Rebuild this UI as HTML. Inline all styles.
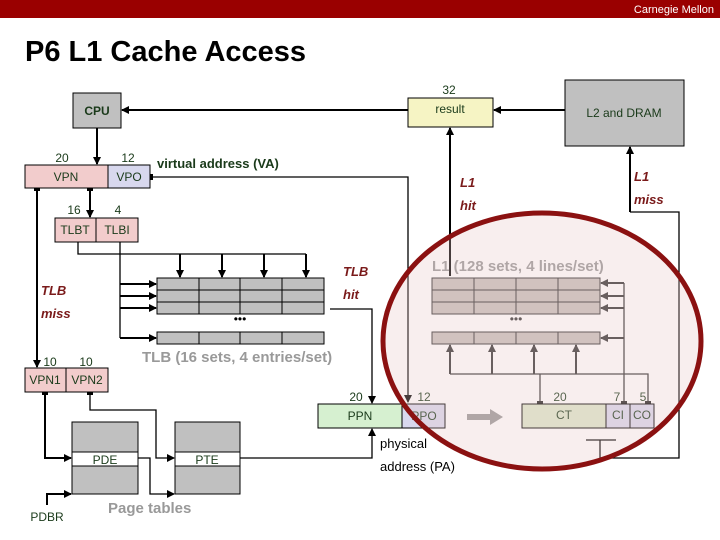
<!DOCTYPE html>
<html><head><meta charset="utf-8"><style>
html,body{margin:0;padding:0;background:#fff}
svg{display:block}
text{font-family:"Liberation Sans",sans-serif}
</style></head><body>
<svg width="720" height="540" viewBox="0 0 720 540" xmlns="http://www.w3.org/2000/svg">
<defs>
<marker id="a" markerWidth="8" markerHeight="8" refX="7" refY="4" orient="auto" markerUnits="userSpaceOnUse"><path d="M0,0 L8,4 L0,8 z" fill="#000"/></marker>
<marker id="b" markerWidth="8" markerHeight="8" refX="7" refY="4" orient="auto" markerUnits="userSpaceOnUse"><path d="M0,0 L8,4 L0,8 z" fill="#333"/></marker>
</defs>
<rect x="0" y="0" width="720" height="18" fill="#9a0000"/>
<text x="714" y="13" fill="#fff" font-size="11" text-anchor="end" font-family="Liberation Serif,serif">Carnegie Mellon</text>
<text x="25" y="61" font-size="29" font-weight="bold" fill="#000">P6 L1 Cache Access</text>

<g stroke="#000" fill="none" stroke-width="1.3">
<line x1="408" y1="110" x2="122" y2="110" stroke-width="2" marker-end="url(#a)"/>
<line x1="97" y1="128" x2="97" y2="164" stroke-width="2" marker-end="url(#a)"/>
<line x1="565" y1="110" x2="494" y2="110" stroke-width="2" marker-end="url(#a)"/>
<polyline points="150,177 408,177 408,402" marker-end="url(#a)"/>
<line x1="90" y1="188" x2="90" y2="217" stroke-width="2" marker-end="url(#a)"/>
<polyline points="78,242 78,254 306,254"/>
<line x1="180" y1="254" x2="180" y2="277" stroke-width="2" marker-end="url(#a)"/>
<line x1="222" y1="254" x2="222" y2="277" stroke-width="2" marker-end="url(#a)"/>
<line x1="264" y1="254" x2="264" y2="277" stroke-width="2" marker-end="url(#a)"/>
<line x1="306" y1="254" x2="306" y2="277" stroke-width="2" marker-end="url(#a)"/>
<polyline points="120,242 120,338"/>
<line x1="120" y1="284" x2="156" y2="284" stroke-width="2" marker-end="url(#a)"/>
<line x1="120" y1="296" x2="156" y2="296" stroke-width="2" marker-end="url(#a)"/>
<line x1="120" y1="308" x2="156" y2="308" stroke-width="2" marker-end="url(#a)"/>
<line x1="120" y1="338" x2="156" y2="338" stroke-width="2" marker-end="url(#a)"/>
<polyline points="330,309 372,309 372,403" marker-end="url(#a)"/>
<line x1="37" y1="188" x2="37" y2="367" stroke-width="2" marker-end="url(#a)"/>
<polyline points="45,392 45,458 71,458" stroke-width="2" marker-end="url(#a)"/>
<polyline points="90,392 90,410 156,410 156,458 174,458" marker-end="url(#a)"/>
<polyline points="138,458 150,458 150,494 174,494" marker-end="url(#a)"/>
<polyline points="47,505 47,494 71,494" stroke-width="2" marker-end="url(#a)"/>
<polyline points="240,458 372,458 372,429" marker-end="url(#a)"/>
<line x1="450" y1="276" x2="450" y2="128" stroke-width="2" marker-end="url(#a)"/>
<polyline points="600,458 679,458 679,212 630,212"/>
<line x1="630" y1="212" x2="630" y2="147" stroke-width="2" marker-end="url(#a)"/>
<line x1="586" y1="440" x2="616" y2="440"/>
<line x1="600" y1="440" x2="600" y2="458"/>
</g>
<g stroke="#333" fill="none" stroke-width="1.3">
<line x1="624" y1="283" x2="624" y2="404"/>
<line x1="624" y1="283" x2="601" y2="283" stroke-width="2" marker-end="url(#b)"/>
<line x1="624" y1="296" x2="601" y2="296" stroke-width="2" marker-end="url(#b)"/>
<line x1="624" y1="308" x2="601" y2="308" stroke-width="2" marker-end="url(#b)"/>
<line x1="624" y1="338" x2="601" y2="338" stroke-width="2" marker-end="url(#b)"/>
<polyline points="450,374 648,374 648,404"/>
<line x1="540" y1="374" x2="540" y2="404"/>
<line x1="450" y1="374" x2="450" y2="345" stroke-width="2" marker-end="url(#b)"/>
<line x1="492" y1="374" x2="492" y2="345" stroke-width="2" marker-end="url(#b)"/>
<line x1="534" y1="374" x2="534" y2="345" stroke-width="2" marker-end="url(#b)"/>
<line x1="576" y1="374" x2="576" y2="345" stroke-width="2" marker-end="url(#b)"/>
</g>
<g fill="#222"><rect x="537" y="401" width="6" height="6"/><rect x="621" y="401" width="6" height="6"/><rect x="645" y="401" width="6" height="6"/>
<rect x="147" y="174" width="6" height="6" fill="#000"/><rect x="34" y="185" width="6" height="6" fill="#000"/><rect x="87" y="185" width="6" height="6" fill="#000"/>
<rect x="42" y="389" width="6" height="6" fill="#000"/><rect x="87" y="389" width="6" height="6" fill="#000"/></g>

<g stroke="#000" stroke-width="1">
<rect x="73" y="93" width="48" height="35" fill="#c0c0c0"/>
<rect x="408" y="98" width="85" height="29" fill="#f6f4c4"/>
<rect x="565" y="80" width="119" height="66" fill="#c0c0c0"/>
<rect x="25" y="165" width="83" height="23" fill="#f2cccc"/>
<rect x="108" y="165" width="42" height="23" fill="#d8d8ee"/>
<rect x="55" y="218" width="41" height="24" fill="#f2cccc"/>
<rect x="96" y="218" width="42" height="24" fill="#f2cccc"/>
<rect x="25" y="368" width="41" height="24" fill="#f2cccc"/>
<rect x="66" y="368" width="42" height="24" fill="#f2cccc"/>
<rect x="72" y="422" width="66" height="72" fill="#c0c0c0"/>
<rect x="72" y="452" width="66" height="14" fill="#fff"/>
<rect x="175" y="422" width="65" height="72" fill="#c0c0c0"/>
<rect x="175" y="452" width="65" height="14" fill="#fff"/>
<rect x="318" y="404" width="84" height="24" fill="#d6f0d0"/>
<rect x="402" y="404" width="43" height="24" fill="#d8d8ee"/>
<rect x="522" y="404" width="84" height="24" fill="#dde8cc"/>
<rect x="606" y="404" width="24" height="24" fill="#d8d8ee"/>
<rect x="630" y="404" width="24" height="24" fill="#d8d8ee"/>
</g>
<g stroke="#000" stroke-width="1" fill="#c0c0c0">
<rect x="157" y="278" width="167" height="36"/><rect x="157" y="332" width="167" height="12"/>
<path d="M157,290H324M157,302H324M199,278V314M240,278V314M282,278V314M199,332V344M240,332V344M282,332V344" fill="none"/>
</g>
<g stroke="#333" stroke-width="1" fill="#c8c0bc">
<rect x="432" y="278" width="168" height="36"/><rect x="432" y="332" width="168" height="12"/>
<path d="M432,290H600M432,302H600M474,278V314M516,278V314M558,278V314M474,332V344M516,332V344M558,332V344" fill="none"/>
</g>
<polygon points="467,414 490,414 490,409 503,417 490,425 490,420 467,420" fill="#999"/>

<g font-size="12" fill="#1a3a1a" text-anchor="middle">
<text x="97" y="115" font-weight="bold">CPU</text>
<text x="450" y="113">result</text>
<text x="449" y="94">32</text>
<text x="624" y="117">L2 and DRAM</text>
<text x="62" y="162">20</text><text x="128" y="162">12</text>
<text x="66" y="181">VPN</text><text x="129" y="181">VPO</text>
<text x="74" y="214">16</text><text x="118" y="214">4</text>
<text x="75" y="234">TLBT</text><text x="117" y="234">TLBI</text>
<text x="50" y="366">10</text><text x="86" y="366">10</text>
<text x="45" y="384">VPN1</text><text x="87" y="384">VPN2</text>
<text x="105" y="464">PDE</text><text x="207" y="464">PTE</text>
<text x="47" y="521">PDBR</text>
<text x="356" y="401">20</text><text x="424" y="401">12</text>
<text x="360" y="420">PPN</text><text x="424" y="420">PPO</text>
<text x="560" y="401">20</text><text x="617" y="401">7</text><text x="643" y="401">5</text>
<text x="564" y="419">CT</text><text x="618" y="419">CI</text><text x="642" y="419">CO</text>
</g>
<text x="157" y="168" font-size="13" fill="#1a3a1a" font-weight="bold">virtual address (VA)</text>
<text x="380" y="448" font-size="13" fill="#000">physical</text>
<text x="380" y="471" font-size="13" fill="#000">address (PA)</text>
<g font-size="13" fill="#7a1a1a" font-style="italic" font-weight="bold">
<text x="41" y="295">TLB</text><text x="41" y="318">miss</text>
<text x="343" y="276">TLB</text><text x="343" y="299">hit</text>
<text x="460" y="187">L1</text><text x="460" y="210">hit</text>
<text x="634" y="181">L1</text><text x="634" y="204">miss</text>
</g>
<g font-size="15" fill="#999" font-weight="bold">
<text x="142" y="362">TLB (16 sets, 4 entries/set)</text>
<text x="432" y="271">L1 (128 sets, 4 lines/set)</text>
<text x="108" y="513">Page tables</text>
</g>
<text x="240" y="323" font-size="12" text-anchor="middle" fill="#000">•••</text>
<text x="516" y="323" font-size="12" text-anchor="middle" fill="#333">•••</text>

<ellipse cx="542" cy="341" rx="159" ry="128" fill="#e8c8c8" fill-opacity="0.3" stroke="#8b1111" stroke-width="5"/>
</svg>
</body></html>
